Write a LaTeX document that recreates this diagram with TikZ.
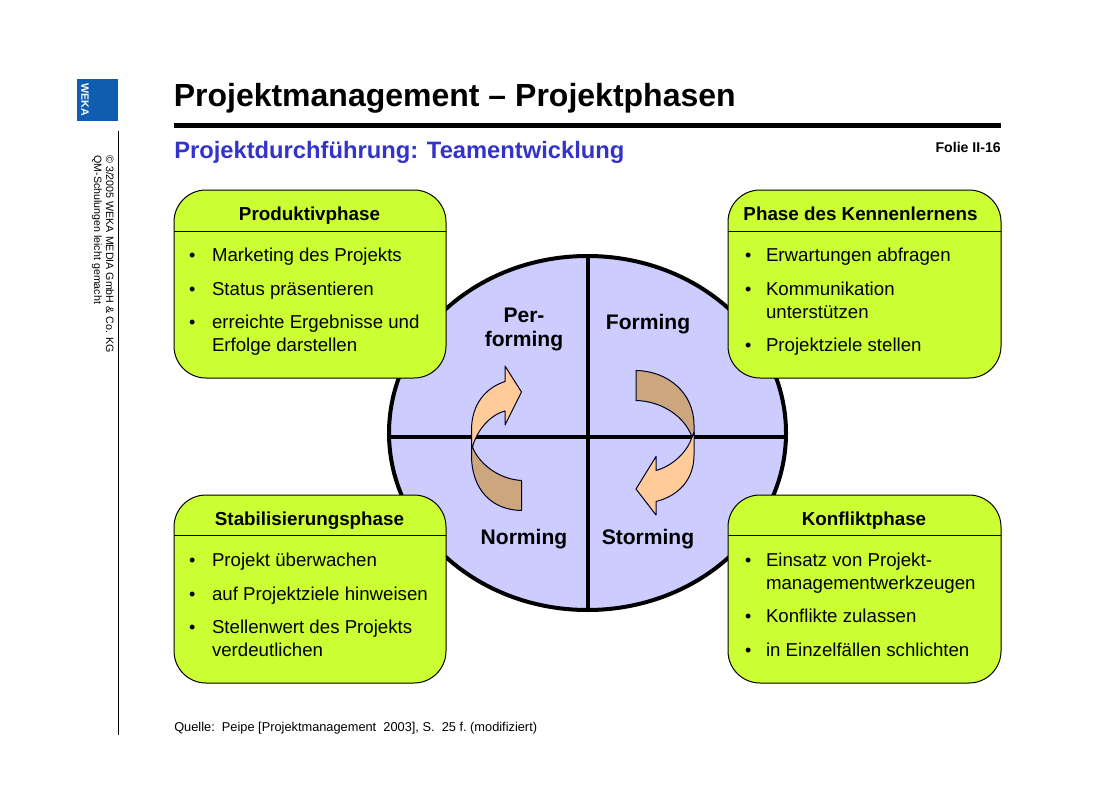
\documentclass[tikz,border=0pt]{standalone}
\usepackage{fontspec}
\setmainfont{Liberation Sans}
\definecolor{boxgreen}{HTML}{CCFF33}
\definecolor{discblue}{HTML}{CCCCFF}
\definecolor{wekablue}{HTML}{0F5DB0}
\definecolor{subblue}{HTML}{3333CC}
\definecolor{arrowlight}{HTML}{FFCC99}
\definecolor{arrowdark}{HTML}{CCA67D}
\tikzset{
  x=0.75pt,y=-0.75pt,
  txt/.style={anchor=base west,inner sep=0pt,outer sep=0pt,font=\fontsize{14}{16}\selectfont},
  bulletmark/.style={anchor=base west,inner sep=0pt,outer sep=0pt,font=\fontsize{13.5}{15}\selectfont},
  btitle/.style={anchor=base,inner sep=0pt,outer sep=0pt,font=\fontsize{14.1}{16}\selectfont\bfseries},
  phase/.style={anchor=base,inner sep=0pt,outer sep=0pt,font=\fontsize{15.8}{18}\selectfont\bfseries,align=center},
  panel/.style={draw=black,fill=boxgreen,line width=0.75pt,rounded corners=24pt},
  arrowfill/.style={draw=black!85!blue,line width=0.75pt,line join=round},
}
\newcommand{\bul}[3]{\node[bulletmark] (#1b) at (#2,#3) {•};}
\begin{document}
\begin{tikzpicture}
\useasboundingbox (0,0) rectangle (1120,792);
% sidebar
\fill[wekablue] (77,79) rectangle (118,121);
\node[rotate=-90,inner sep=0pt,font=\fontsize{8}{10}\selectfont\bfseries,text=white] (logo) at (85,100) {WEKA};
\draw[line width=0.75pt] (118,131) -- (118,735);
\node[rotate=-90,anchor=base west,inner sep=0pt,font=\fontsize{8}{9}\selectfont] (copy1) at (106,155) {© 3/2005 WEKA MEDIA GmbH \& Co. KG};
\node[rotate=-90,anchor=base west,inner sep=0pt,font=\fontsize{8}{9}\selectfont] (copy2) at (94,155) {QM-Schulungen leicht gemacht};
% header
\node[anchor=base west,inner sep=0pt,font=\fontsize{24}{27}\selectfont\bfseries] (title) at (173.5,106) {Projektmanagement – Projektphasen};
\fill (174,123) rectangle (1001,128);
\node[anchor=base west,inner sep=0pt,text=subblue,font=\fontsize{17.8}{22}\selectfont\bfseries] (sub) at (174,158) {Projektdurchführung: Teamentwicklung};
\node[anchor=base east,inner sep=0pt,font=\fontsize{10.6}{12}\selectfont\bfseries] (folie) at (1001,152) {Folie II-16};
% disc
\draw[fill=discblue,line width=3pt] (587.5,433) ellipse [x radius=198.5,y radius=177];
\draw[line width=3pt] (587.5,256) -- (587.5,609);
\draw[line width=3pt] (389,436.5) -- (786,436.5);
% phase labels
\node[phase] (perf) at (524,322) {Per-};
\node[phase] (perf2) at (524,346) {forming};
\node[phase] (form) at (648,329) {Forming};
\node[phase] (norm) at (524,544) {Norming};
\node[phase] (storm) at (648,544) {Storming};
% left cycle arrow
\draw[arrowfill,fill=arrowdark] (472.5,447) .. controls (478,462) and (497,479) .. (521.5,480.5) -- (521.5,510.5) .. controls (492,510) and (471.5,490) .. (471.5,455) -- (471.5,440) -- cycle;
\draw[arrowfill,fill=arrowlight] (471.5,447) -- (471.5,430) .. controls (471.5,405) and (485,388) .. (505,381.5) -- (505,366) -- (521.5,392) -- (505,425) -- (505,411) .. controls (490,415) and (477,430) .. (472.5,447) -- cycle;
% right cycle arrow
\draw[arrowfill,fill=arrowdark] (636,370.5) .. controls (668,371) and (694,393) .. (694,425) -- (694,437) -- (692,437) .. controls (684,415) and (660,401) .. (636,400.5) -- cycle;
\draw[arrowfill,fill=arrowlight] (692,437) .. controls (688,450) and (675,465) .. (656,470.5) -- (656,456.5) -- (636,489) -- (656,515) -- (656,501.5) .. controls (678,496) and (694,480) .. (694,455) -- (694,432) -- cycle;
% panels
\draw[panel] (174,190) rectangle (446,378);
\draw[line width=0.75pt] (174,231) -- (446,231);
\draw[panel] (728,190) rectangle (1001,378);
\draw[line width=0.75pt] (728,231) -- (1001,231);
\draw[panel] (174,495) rectangle (446,683);
\draw[line width=0.75pt] (174,535) -- (446,535);
\draw[panel] (728,495) rectangle (1001,683);
\draw[line width=0.75pt] (728,535) -- (1001,535);
% panel titles
\node[btitle] (t1) at (309.5,220) {Produktivphase};
\node[btitle] (t2) at (860.5,220) {Phase des Kennenlernens};
\node[btitle] (t3) at (309.5,525) {Stabilisierungsphase};
\node[btitle] (t4) at (864,525) {Konfliktphase};
% panel 1
\bul{a1}{189}{261} \node[txt] (a1) at (212,261) {Marketing des Projekts};
\bul{a2}{189}{295} \node[txt] (a2) at (212,295) {Status präsentieren};
\bul{a3}{189}{328} \node[txt] (a3) at (212,328) {erreichte Ergebnisse und};
\node[txt] (a4) at (212,351) {Erfolge darstellen};
% panel 2
\bul{b1}{745}{261} \node[txt] (b1) at (766,261) {Erwartungen abfragen};
\bul{b2}{745}{295} \node[txt] (b2) at (766,295) {Kommunikation};
\node[txt] (b3) at (766,318) {unterstützen};
\bul{b4}{745}{351} \node[txt] (b4) at (766,351) {Projektziele stellen};
% panel 3
\bul{c1}{189}{566} \node[txt] (c1) at (212,566) {Projekt überwachen};
\bul{c2}{189}{600} \node[txt] (c2) at (212,600) {auf Projektziele hinweisen};
\bul{c3}{189}{633} \node[txt] (c3) at (212,633) {Stellenwert des Projekts};
\node[txt] (c4) at (212,656) {verdeutlichen};
% panel 4
\bul{d1}{745}{566} \node[txt] (d1) at (766,566) {Einsatz von Projekt-};
\node[txt] (d2) at (766,589) {managementwerkzeugen};
\bul{d3}{745}{622} \node[txt] (d3) at (766,622) {Konflikte zulassen};
\bul{d4}{745}{656} \node[txt] (d4) at (766,656) {in Einzelfällen schlichten};
% source
\node[anchor=base west,inner sep=0pt,font=\fontsize{9.6}{11}\selectfont] (src) at (174,731) {Quelle:\ \ Peipe [Projektmanagement\ \ 2003], S.\ \ 25 f.\ (modifiziert)};
\end{tikzpicture}
\end{document}
